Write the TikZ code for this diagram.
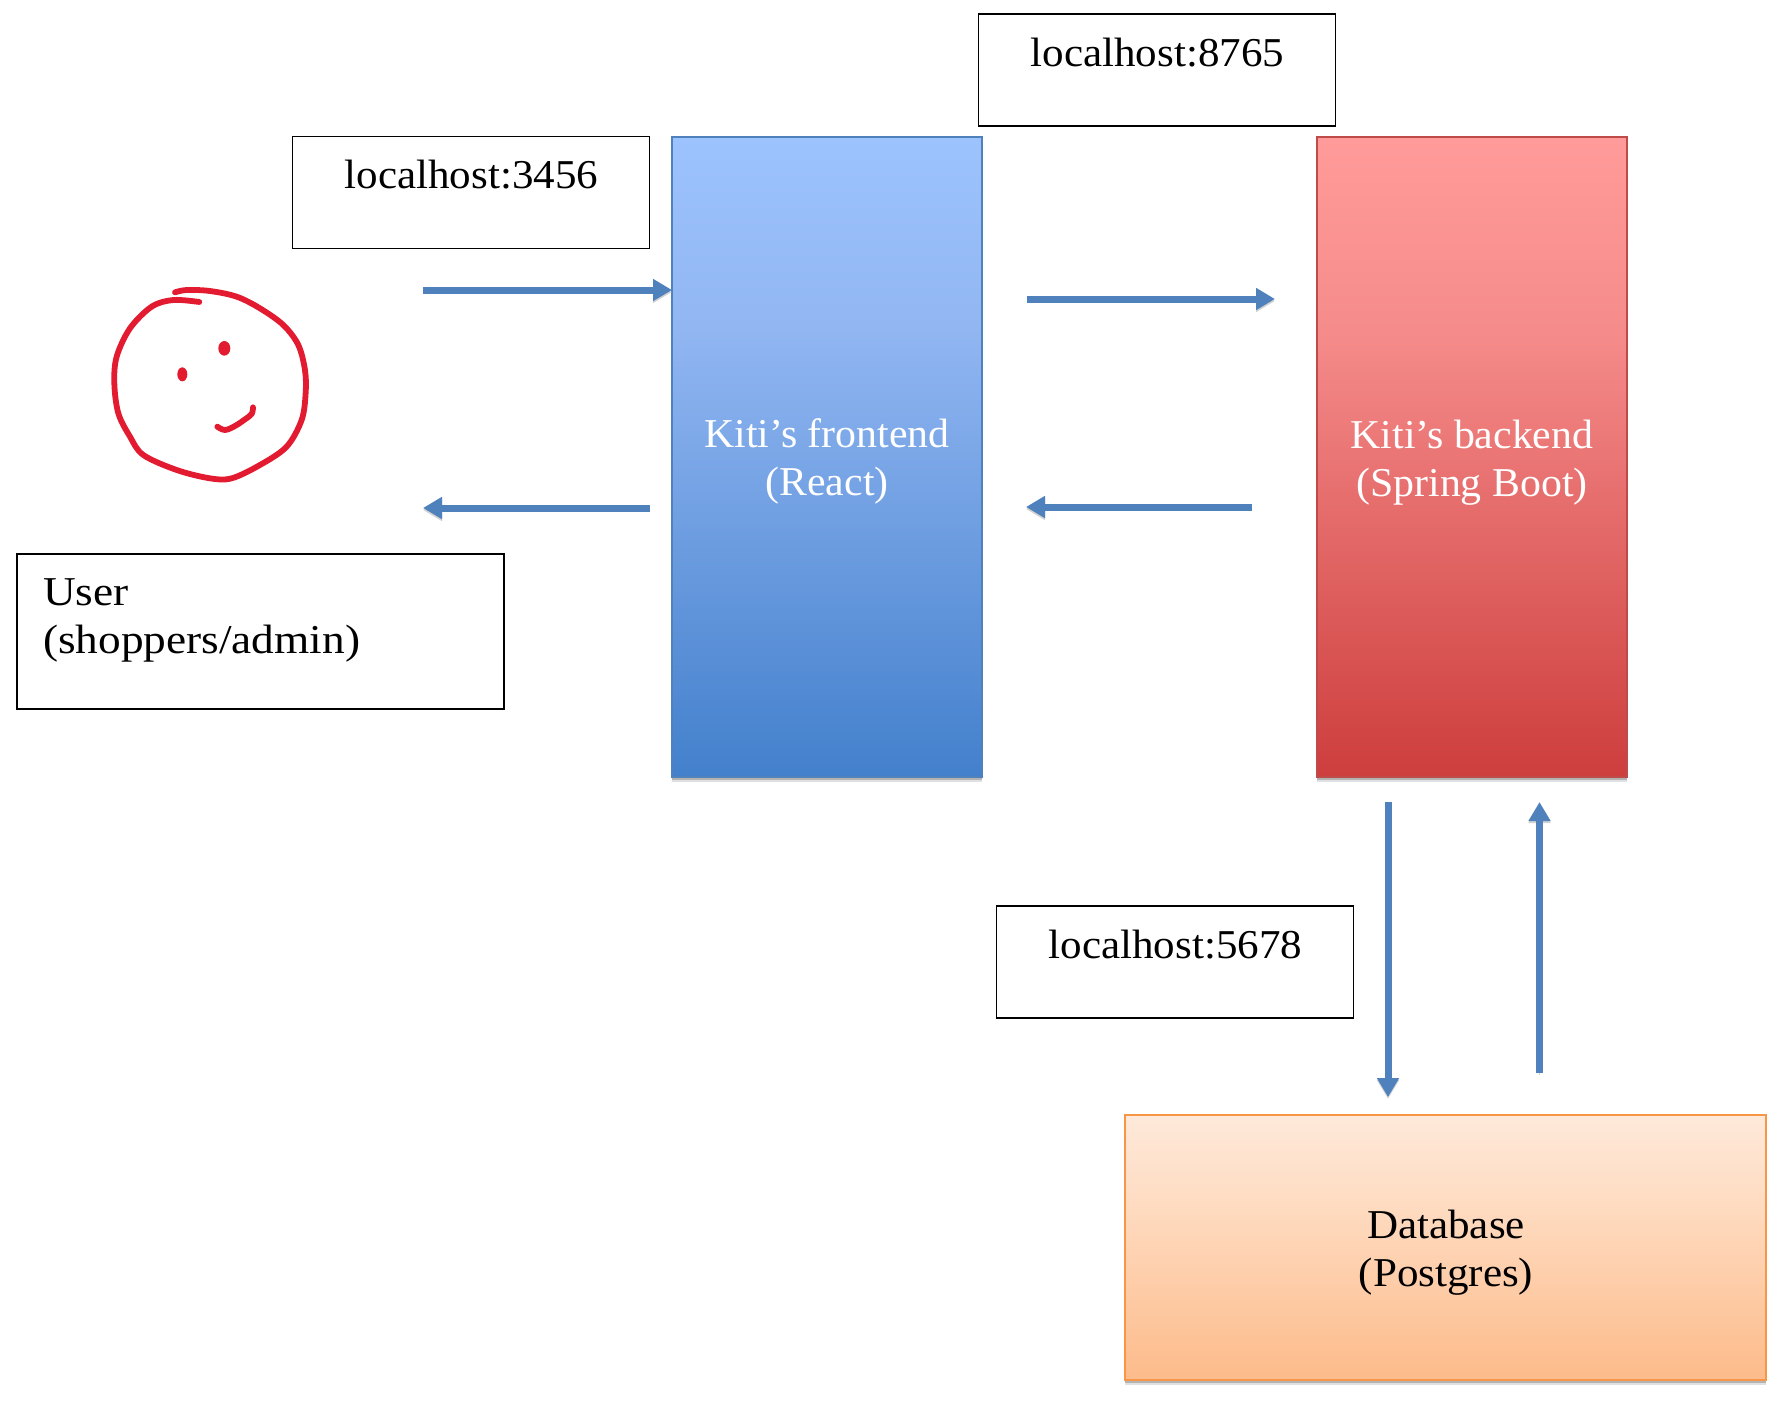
\documentclass[tikz,border=0pt]{standalone}
\usepackage{fontspec}
\setmainfont[FakeStretch=1.05]{Liberation Serif}
\newfontfamily\narrowface[FakeStretch=1.02]{Liberation Serif}
\newfontfamily\wideface[FakeStretch=1.105]{Liberation Serif}
\usetikzlibrary{arrows.meta,shadows,calc}
\definecolor{linkblue}{HTML}{4F81BD}
\definecolor{facered}{HTML}{E31B30}
\definecolor{cbtop}{HTML}{9DC3FF}
\definecolor{cbmid}{HTML}{91B6F2}
\definecolor{cbbot}{HTML}{4380CC}
\definecolor{crbd}{HTML}{BE4B48}
\definecolor{crtop}{HTML}{FF9B9A}
\definecolor{crmid}{HTML}{F58C8B}
\definecolor{crbot}{HTML}{CD3E3D}
\definecolor{cobd}{HTML}{F79646}
\definecolor{cotop}{HTML}{FEE9DA}
\definecolor{comid}{HTML}{FEDDC4}
\definecolor{cobot}{HTML}{FDBB8A}
\pgfdeclareverticalshading{bluegrad}{100bp}{color(0bp)=(cbbot); color(25bp)=(cbbot); color(60bp)=(cbmid); color(75bp)=(cbtop); color(100bp)=(cbtop)}
\pgfdeclareverticalshading{redgrad}{100bp}{color(0bp)=(crbot); color(25bp)=(crbot); color(60bp)=(crmid); color(75bp)=(crtop); color(100bp)=(crtop)}
\pgfdeclareverticalshading{orangegrad}{100bp}{color(0bp)=(cobot); color(25bp)=(cobot); color(60bp)=(comid); color(75bp)=(cotop); color(100bp)=(cotop)}
\tikzset{
  x=1pt,y=-1pt,
  every node/.style={inner sep=0pt,outer sep=0pt},
  txt/.style={font=\fontsize{41}{48}\selectfont,align=center},
  portbox/.style={draw=black,line width=1.5pt,fill=white,anchor=north west,minimum width=357pt,minimum height=112pt},
  softshadow/.style={drop shadow={shadow xshift=0pt,shadow yshift=-5pt,opacity=.12,fill=black},drop shadow={shadow xshift=0pt,shadow yshift=-2.5pt,opacity=.2,fill=black}},
  tier/.style={rectangle,anchor=north west,line width=2.4pt,softshadow},
  link/.style={draw=linkblue,line width=7pt,-{Triangle[length=19pt,width=21pt]},preaction={draw=black!18,transform canvas={yshift=-2pt}}},
  sketch/.style={draw=facered,line width=5.8pt,line cap=round,line join=round},
}
\begin{document}
\begin{tikzpicture}
\useasboundingbox (0,0) rectangle (1784,1406);
\fill[white] (0,0) rectangle (1784,1406);

% tiers
\node[tier,draw=linkblue,shade,shading=bluegrad,minimum width=310pt,minimum height=640pt] (front) at (672,137) {};
\node[tier,draw=crbd,shade,shading=redgrad,minimum width=310pt,minimum height=640pt] (back) at (1317,137) {};
\node[tier,draw=cobd,shade,shading=orangegrad,minimum width=641pt,minimum height=265pt] (db) at (1125,1115) {};
\node[txt,text=white,font=\fontsize{41}{48}\selectfont\narrowface] (frontlbl) at (827,461.5) {Kiti’s frontend\\(React)};
\node[txt,text=white,font=\fontsize{41}{48}\selectfont\narrowface] (backlbl) at (1472,462.5) {Kiti’s backend\\(Spring Boot)};
\node[txt] (dblbl) at (1446,1252.5) {Database\\(Postgres)};

% label boxes
\node[portbox] (p3456) at (292.5,136.5) {};
\node[portbox] (p8765) at (978.5,14) {};
\node[portbox] (p5678) at (996.5,906) {};
\node[portbox,minimum width=487pt,minimum height=155pt] (user) at (17,554) {};
\node[txt] (p3456lbl) at (471.5,175) {localhost:3456};
\node[txt] (p8765lbl) at (1157.5,53) {localhost:8765};
\node[txt] (p5678lbl) at (1175.5,945) {localhost:5678};
\node[txt,align=left,anchor=west,font=\fontsize{41}{48}\selectfont\wideface] (userlbl) at (43,620.5) {User\\(shoppers/admin)};

% connectors
\coordinate (a1) at (423,290);
\coordinate (b1) at (1027,299);
\coordinate (b2) at (1275,299);
\coordinate (c1) at (650,508);
\coordinate (c2) at (423,508);
\coordinate (d1) at (1252,507);
\coordinate (d2) at (1026,507);
\coordinate (e1) at (1388,802);
\coordinate (e2) at (1388,1097);
\coordinate (f1) at (1539.5,1073);
\coordinate (f2) at (1539.5,802);
\draw[link] (a1) -- (a1 -| front.west);
\draw[link] (b1) -- (b2);
\draw[link] (c1) -- (c2);
\draw[link] (d1) -- (d2);
\draw[link] (e1) -- (e2);
\draw[link] (f1) -- (f2);

% hand-drawn face
\begin{scope}[shift={(80,260)},x=0.3333pt,y=-0.3333pt]
\draw[sketch] plot[smooth,tension=0.55] coordinates {(285,97) (320,90) (390,93) (470,110) (540,145) (610,195) (655,255) (675,330) (677,400) (665,480) (620,560) (540,615) (455,655) (390,655) (290,630) (190,585) (150,530) (115,460) (103,370) (110,290) (150,205) (215,140) (280,120) (358,126)};
\fill[facered] (433,265) ellipse[x radius=18,y radius=22];
\fill[facered] (307,343) ellipse[x radius=15,y radius=21];
\draw[sketch] plot[smooth,tension=0.6] coordinates {(412,500) (435,510) (465,498) (495,478) (515,462) (519,442)};
\end{scope}
\end{tikzpicture}
\end{document}
